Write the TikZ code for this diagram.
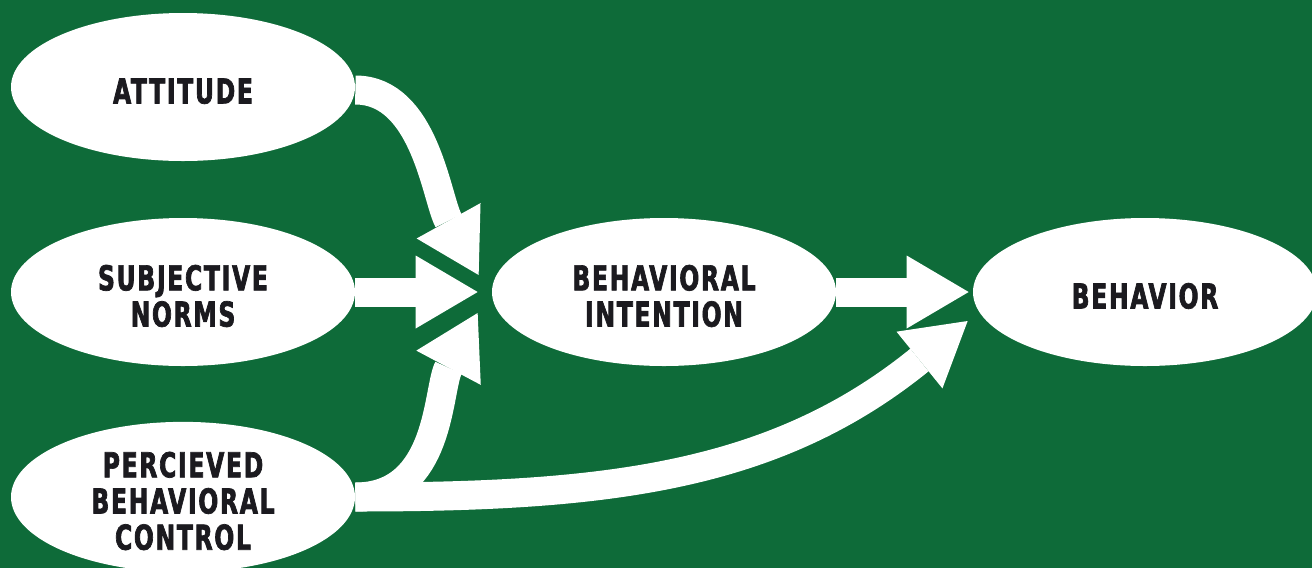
\documentclass[tikz,border=0pt]{standalone}
\usepackage{fontspec}
\usepackage{tikz}
\usetikzlibrary{shapes,arrows.meta,bending,positioning}
\newfontfamily\stagefont{DejaVu Sans Condensed}[FakeStretch=0.76,LetterSpace=5,FakeBold=2]
\newcommand\padtop{\rule{0pt}{19pt}}
\definecolor{bggreen}{HTML}{0E6B39}
\definecolor{inkblack}{HTML}{1B1A1F}
\tikzset{%
	stagenode/.style={ellipse, fill=white, minimum width=6.88cm, minimum height=2.96cm, inner sep=0pt, align=center, text=inkblack, font=\stagefont\bfseries\fontsize{19.5}{20.6}\selectfont},
	flow/.style={color=white, line width=0.58cm, -{Triangle[width=1.46cm, length=1.24cm, line width=0pt, fill=white, quick]}}}

\begin{document}
\begin{tikzpicture}[node distance=4.1cm and 9.62cm, on grid]
		\fill[bggreen] (0,0) rectangle (26.24,-11.36);
		\useasboundingbox (0,0) rectangle (26.24,-11.36);
		
		\node[stagenode] (SN) at (3.66,-5.84) {\padtop SUBJECTIVE\\NORMS};
		\node[stagenode] (AT) [above=of SN] {\padtop ATTITUDE};
		\node[stagenode] (PBC) [below=of SN] {\padtop PERCIEVED\\BEHAVIORAL\\CONTROL};
		\node[stagenode] (BI) [right=of SN] {\padtop BEHAVIORAL\\INTENTION};
		\node[stagenode] (BH) [right=of BI] {\padtop BEHAVIOR};
		
		\coordinate (BIup) at ([shift={(-0.26,0.34)}]BI.west);
		\coordinate (BIdown) at ([shift={(-0.28,-0.42)}]BI.west);
		\coordinate (BHdown) at ([shift={(-0.1,-0.58)}]BH.west);
		
		\draw[flow] ([yshift=-0.06cm]AT.east) to [out=0, in=119, out looseness=0.8] (BIup);
		\draw[flow, shorten >=0.28cm] (SN) -- (BI);
		\draw[flow] (PBC.east) to [out=0, in=-118] (BIdown);
		\draw[flow, shorten >=0.08cm] (BI) -- (BH);
		\draw[flow] (PBC.east) to [out=0, in=219] (BHdown);
	\end{tikzpicture}
\end{document}
